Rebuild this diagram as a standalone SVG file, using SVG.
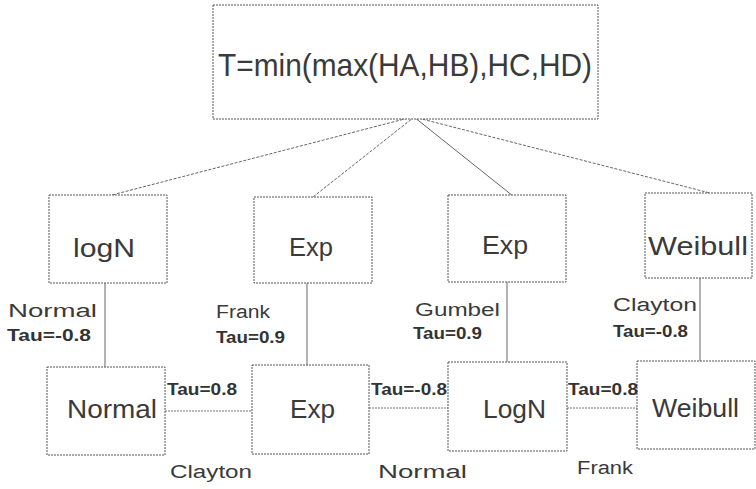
<svg xmlns="http://www.w3.org/2000/svg" width="756" height="489" viewBox="0 0 756 489">
<style>
.box{fill:#fff;stroke:#555;stroke-width:1;stroke-dasharray:2 1}
.nl{font-family:"Liberation Sans",Arial,sans-serif;font-size:25px;fill:#3a3a3a}
.el{font-family:"Liberation Sans",Arial,sans-serif;font-size:18px;fill:#3a3a3a}
.tau{font-family:"Liberation Sans",Arial,sans-serif;font-size:16px;font-weight:bold;fill:#333}
.dash{stroke:#666;stroke-width:1;stroke-dasharray:3 1.5;fill:none}
.solid{stroke:#666;stroke-width:1;fill:none}
.hl{stroke:#777;stroke-width:1;stroke-dasharray:2 1;fill:none}
</style>
<rect width="756" height="489" fill="#fff"/>
<g id="connectors">
<line class="dash" x1="416" y1="116" x2="112" y2="195"/>
<line class="dash" x1="418" y1="114" x2="313" y2="197"/>
<line class="solid" x1="414" y1="117" x2="518" y2="200"/>
<line class="dash" x1="414" y1="117" x2="710" y2="193"/>
<line class="solid" x1="105" y1="283" x2="105" y2="367"/>
<line class="solid" x1="307" y1="283" x2="307" y2="365"/>
<line class="solid" x1="507" y1="282" x2="507" y2="362"/>
<line class="solid" x1="700" y1="278" x2="700" y2="361"/>
<line class="hl" x1="165" y1="411" x2="252" y2="411"/>
<line class="hl" x1="369" y1="408" x2="448" y2="408"/>
<line class="hl" x1="567" y1="408" x2="637" y2="408"/>
</g>
<g id="top">
<rect class="box" x="213" y="5" width="385" height="114"/>
<text x="218" y="76" font-family="Liberation Sans, Arial, sans-serif" font-size="32" fill="#3a3a3a" textLength="374" lengthAdjust="spacingAndGlyphs">T=min(max(HA,HB),HC,HD)</text>
</g>
<g id="logN1"><rect class="box" x="49" y="195" width="118" height="88"/><text class="nl" x="73" y="257" textLength="62" lengthAdjust="spacingAndGlyphs">logN</text></g>
<g id="exp1"><rect class="box" x="254" y="197" width="118" height="86"/><text class="nl" x="289" y="256" textLength="44" lengthAdjust="spacingAndGlyphs">Exp</text></g>
<g id="exp2"><rect class="box" x="448" y="195" width="118" height="87"/><text class="nl" x="482" y="254" textLength="46" lengthAdjust="spacingAndGlyphs">Exp</text></g>
<g id="weibull1"><rect class="box" x="645" y="193" width="107" height="85"/><text class="nl" x="648" y="255" textLength="100" lengthAdjust="spacingAndGlyphs">Weibull</text></g>
<g id="normal2"><rect class="box" x="47" y="367" width="118" height="88"/><text class="nl" x="67" y="418" textLength="90" lengthAdjust="spacingAndGlyphs">Normal</text></g>
<g id="exp3"><rect class="box" x="252" y="365" width="117" height="89"/><text class="nl" x="290" y="418" textLength="45" lengthAdjust="spacingAndGlyphs">Exp</text></g>
<g id="logN2"><rect class="box" x="448" y="362" width="119" height="89"/><text class="nl" x="483" y="418" textLength="63" lengthAdjust="spacingAndGlyphs">LogN</text></g>
<g id="weibull2"><rect class="box" x="637" y="361" width="118" height="88"/><text class="nl" x="652" y="417" textLength="87" lengthAdjust="spacingAndGlyphs">Weibull</text></g>
<g id="labels">
<text class="el" x="8" y="317" textLength="89" lengthAdjust="spacingAndGlyphs">Normal</text>
<text class="tau" x="7" y="341" textLength="84" lengthAdjust="spacingAndGlyphs">Tau=-0.8</text>
<text class="el" x="216" y="318" textLength="54" lengthAdjust="spacingAndGlyphs">Frank</text>
<text class="tau" x="216" y="343" textLength="69" lengthAdjust="spacingAndGlyphs">Tau=0.9</text>
<text class="el" x="415" y="316" textLength="85" lengthAdjust="spacingAndGlyphs">Gumbel</text>
<text class="tau" x="413" y="339" textLength="69" lengthAdjust="spacingAndGlyphs">Tau=0.9</text>
<text class="el" x="613" y="311" textLength="84" lengthAdjust="spacingAndGlyphs">Clayton</text>
<text class="tau" x="613" y="337" textLength="75" lengthAdjust="spacingAndGlyphs">Tau=-0.8</text>
<text class="tau" x="167" y="395" textLength="70" lengthAdjust="spacingAndGlyphs">Tau=0.8</text>
<text class="el" x="170" y="478" textLength="82" lengthAdjust="spacingAndGlyphs">Clayton</text>
<text class="tau" x="371" y="395" textLength="76" lengthAdjust="spacingAndGlyphs">Tau=-0.8</text>
<text class="el" x="378" y="478" textLength="89" lengthAdjust="spacingAndGlyphs">Normal</text>
<text class="tau" x="568" y="395" textLength="70" lengthAdjust="spacingAndGlyphs">Tau=0.8</text>
<text class="el" x="577" y="474" textLength="56" lengthAdjust="spacingAndGlyphs">Frank</text>
</g>
</svg>
